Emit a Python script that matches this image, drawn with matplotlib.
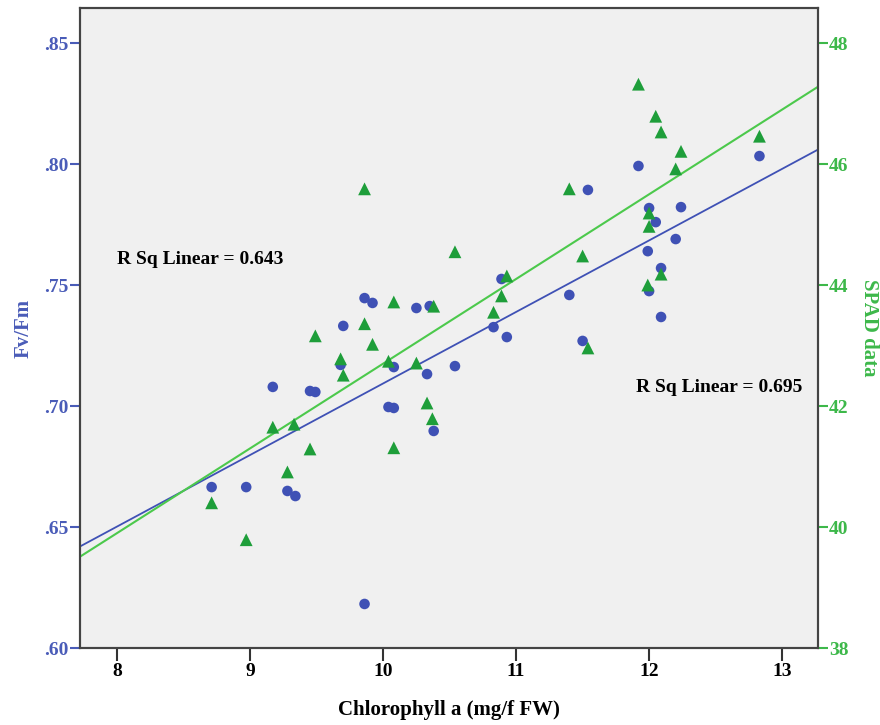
import numpy as np
import matplotlib
matplotlib.use("Agg")
import matplotlib.pyplot as plt

# Chlorophyll a vs Fv/Fm (blue circles)
chl_fv = [8.71, 8.97, 9.28, 9.34, 9.17, 9.45, 9.49, 9.68, 9.70, 9.86, 9.92, 9.86,
          10.04, 10.08, 10.08, 10.25, 10.33, 10.35, 10.38, 10.54, 10.83, 10.89, 10.93,
          11.40, 11.50, 11.54, 11.92, 11.99, 12.00, 12.00, 12.05, 12.09, 12.09, 12.20,
          12.24, 12.83]
fvfm = [.6665, .6665, .6649, .6628, .7079, .7062, .7058, .7170, .7331, .7446, .7426, .6182,
        .6996, .6992, .7161, .7405, .7132, .7413, .6897, .7165, .7326, .7525, .7285,
        .7459, .7269, .7893, .7992, .7640, .7818, .7475, .7760, .7570, .7368, .7690,
        .7822, .8033]

# Chlorophyll a vs SPAD (green triangles)
chl_spad = [8.71, 8.97, 9.17, 9.28, 9.33, 9.45, 9.49, 9.68, 9.70, 9.86, 9.86, 9.92,
            10.04, 10.08, 10.08, 10.25, 10.33, 10.37, 10.38, 10.54, 10.83, 10.89, 10.93,
            11.40, 11.50, 11.54, 11.92, 11.99, 12.00, 12.00, 12.05, 12.09, 12.09, 12.20,
            12.24, 12.83]
spad = [40.40, 39.79, 41.65, 40.91, 41.70, 41.29, 43.16, 42.78, 42.51, 43.36, 45.59, 43.02,
        42.74, 43.72, 41.31, 42.71, 42.05, 41.79, 43.65, 44.55, 43.55, 43.82, 44.15,
        45.59, 44.48, 42.96, 47.32, 44.00, 45.19, 44.97, 46.79, 46.53, 44.18, 45.92,
        46.21, 46.46]

x_ticks = [8, 9, 10, 11, 12, 13]
fv_ticks = [.60, .65, .70, .75, .80, .85]
fv_labels = [".60", ".65", ".70", ".75", ".80", ".85"]
spad_ticks = [38, 40, 42, 44, 46, 48]

blue = "#3F51B5"
blue_txt = "#4A5CB8"
green_mk = "#1E9E3A"
green_ln = "#4CC94C"
green_txt = "#3DB84A"
serif = ["Liberation Serif", "DejaVu Serif"]

fig = plt.figure(figsize=(8.8, 7.25), dpi=100)
ax = fig.add_axes([0.0909, 0.1062, 0.8386, 0.8828])
ax2 = ax.twinx()

xlim = (7.72, 13.27)
ax.set_xlim(*xlim)
ax.set_ylim(0.60, 0.8645)
ax2.set_ylim(38, 48.58)
ax.set_facecolor("#F0F0F0")

# regression lines
xs = np.array(xlim)
b1 = np.polyfit(chl_fv, fvfm, 1)
b2 = np.polyfit(chl_spad, spad, 1)
ax.plot(xs, np.polyval(b1, xs), color=blue, lw=1.3, zorder=2)
ax2.plot(xs, np.polyval(b2, xs), color=green_ln, lw=1.5, zorder=2)

ax.scatter(chl_fv, fvfm, s=58, color=blue, edgecolors="none", zorder=3)
ax2.scatter(chl_spad, spad, s=85, marker="^", color=green_mk, edgecolors="none", zorder=3)

ax.set_xticks(x_ticks)
ax.set_xticklabels([str(t) for t in x_ticks])
ax.set_yticks(fv_ticks)
ax.set_yticklabels(fv_labels)
ax2.set_yticks(spad_ticks)
ax2.set_yticklabels([str(t) for t in spad_ticks])

for lab in ax.get_xticklabels():
    lab.set_fontfamily(serif)
    lab.set_fontweight("bold")
    lab.set_fontsize(14)
for lab in ax.get_yticklabels():
    lab.set_fontfamily(serif)
    lab.set_fontweight("bold")
    lab.set_fontsize(14)
    lab.set_color(blue_txt)
for lab in ax2.get_yticklabels():
    lab.set_fontfamily(serif)
    lab.set_fontweight("bold")
    lab.set_fontsize(14)
    lab.set_color(green_txt)

ax.tick_params(axis="x", direction="out", length=9, width=1.5, color="#333333", pad=2)
ax.tick_params(axis="y", direction="out", length=7, width=1.5, color=blue_txt, pad=1)
ax2.tick_params(axis="y", direction="out", length=7, width=1.5, color=green_txt, pad=1)

for a in (ax, ax2):
    for sp in a.spines.values():
        sp.set_color("#444444")
        sp.set_linewidth(1.5)

ax.set_xlabel("Chlorophyll a (mg/f FW)", fontfamily=serif, fontweight="bold",
              fontsize=15, labelpad=14)
ax.set_ylabel("Fv/Fm", fontfamily=serif, fontweight="bold", fontsize=15,
              color=blue_txt, labelpad=8)
ax2.set_ylabel("SPAD data", fontfamily=serif, fontweight="bold", fontsize=15,
               color=green_txt, rotation=-90, labelpad=22)

ax.text(8.0, 0.7605, "R Sq Linear = 0.643", fontfamily=serif, fontweight="bold",
        fontsize=14, va="center", ha="left")
ax.text(12.53, 0.7075, "R Sq Linear = 0.695", fontfamily=serif, fontweight="bold",
        fontsize=14, va="center", ha="center")

fig.savefig("out.png", dpi=100)
